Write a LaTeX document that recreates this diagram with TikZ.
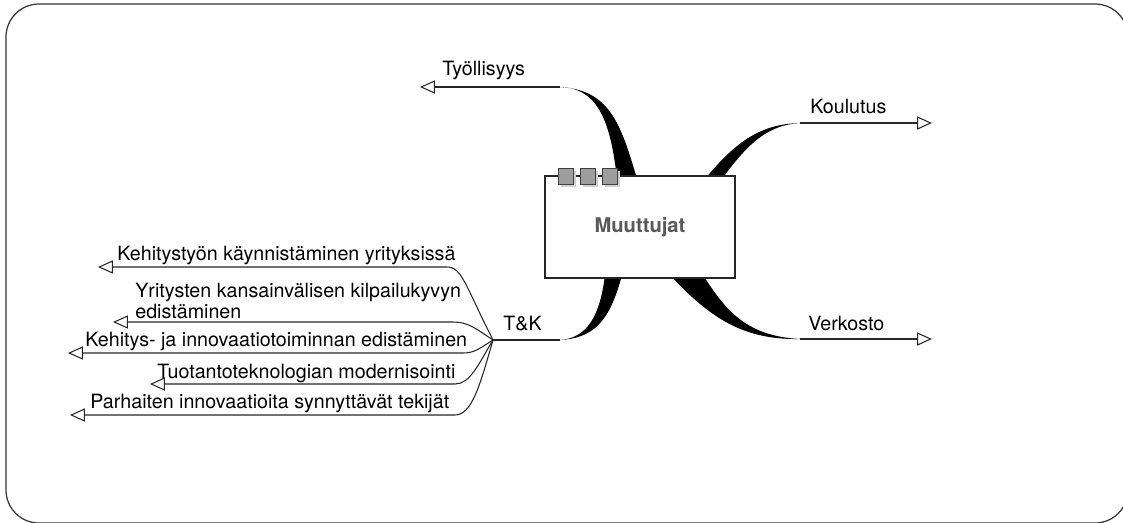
\documentclass[tikz,border=0pt]{standalone}
\usepackage{fontspec}
\setmainfont{TeX Gyre Heros}
\usetikzlibrary{arrows.meta,shadows}

\begin{document}
\begin{tikzpicture}[x=0.02cm,y=-0.02cm,
    stem/.style={draw=black!85,line width=0.6pt},
    arm/.style={stem,-{Triangle[open,length=8.5pt,width=7.5pt]}},
    lbl/.style={inner sep=0pt,anchor=base west,font=\fontsize{11.2}{11.6}\selectfont},
    knob/.style={draw=black!75,fill=black!38,line width=0.5pt,minimum width=0.3cm,minimum height=0.32cm,inner sep=0pt,
      drop shadow={opacity=1,fill=black!18,shadow xshift=1.6pt,shadow yshift=-1.6pt}}]
    \useasboundingbox (0,0) rectangle (1123,522);
    \begin{scope}
    \clip (0,0) rectangle (1123,522);
    \draw[black!80,line width=0.7pt,rounded corners=0.66cm] (6,4) rectangle (1128,523);
    \end{scope}

    \coordinate (tyo-root) at (560,87);
    \coordinate (tyo-end) at (420,87);
    \coordinate (kou-root) at (800,123);
    \coordinate (kou-end) at (932,123);
    \coordinate (ver-root) at (800,339);
    \coordinate (ver-end) at (932,339);
    \coordinate (tk-root) at (560,340);
    \coordinate (fan) at (493,340);

    \fill (617,179) .. controls (610,115) and (595,88) .. (tyo-root) .. controls (608,90) and (620,120) .. (637,179) -- cycle;
    \fill (705,179) .. controls (737,140) and (762,124) .. (kou-root) .. controls (768,125) and (748,143) .. (722,179) -- cycle;
    \fill (703,275) .. controls (727,313) and (748,336) .. (ver-root) .. controls (743,340) and (710,318) .. (670,275) -- cycle;
    \fill (605,275) .. controls (600,315) and (588,338) .. (tk-root) .. controls (595,338) and (610,320) .. (622,275) -- cycle;

    \node[draw=black!85,fill=white,line width=0.6pt,minimum width=3.8cm,minimum height=2.04cm,
      text=black!65,font=\fontsize{11.5}{13}\selectfont\bfseries] (panel) at (640,227) {Muuttujat};
    \node[knob] (knob1) at (565.5,176) {};
    \node[knob] (knob2) at (587.5,176) {};
    \node[knob] (knob3) at (610,176) {};

    \draw[arm] (tyo-root) -- (tyo-end);
    \draw[arm] (kou-root) -- (kou-end);
    \draw[arm] (ver-root) -- (ver-end);
    \draw[stem] (tk-root) -- (fan);
    \path (442,75) node[lbl] (tyo) {Työllisyys};
    \path (810,113) node[lbl] (kou) {Koulutus};
    \path (808,330) node[lbl] (ver) {Verkosto};
    \path (503,330) node[lbl] (tk) {T\&K};

    \coordinate (kt1-end) at (98,267);
    \coordinate (kt2-end) at (113,322);
    \coordinate (kt3-end) at (68,353);
    \coordinate (kt4-end) at (150,384);
    \coordinate (kt5-end) at (70,415);
    \draw[arm] (fan) .. controls (465,285) and (462,267) .. (447,267) -- (kt1-end);
    \draw[arm] (fan) .. controls (475,328) and (468,322) .. (453,322) -- (kt2-end);
    \draw[arm] (fan) .. controls (480,348) and (475,353) .. (463,353) -- (kt3-end);
    \draw[arm] (fan) .. controls (478,365) and (470,384) .. (455,384) -- (kt4-end);
    \draw[arm] (fan) .. controls (480,385) and (472,415) .. (455,415) -- (kt5-end);
    \path (117,260) node[lbl] (kt1) {Kehitystyön käynnistäminen yrityksissä};
    \path (135,318) node[lbl,align=left] (kt2) {Yritysten kansainvälisen kilpailukyvyn\\edistäminen};
    \path (85,346) node[lbl] (kt3) {Kehitys- ja innovaatiotoiminnan edistäminen};
    \path (157,378) node[lbl] (kt4) {Tuotantoteknologian modernisointi};
    \path (90,408) node[lbl] (kt5) {Parhaiten innovaatioita synnyttävät tekijät};
\end{tikzpicture}
\end{document}
